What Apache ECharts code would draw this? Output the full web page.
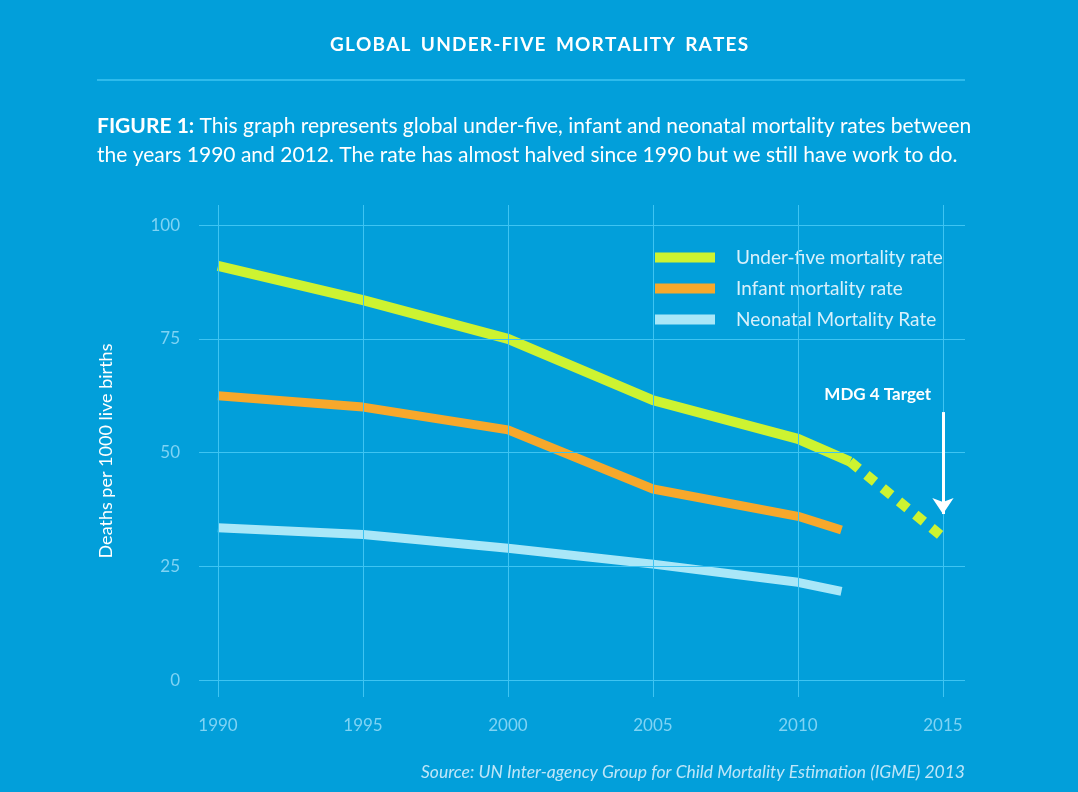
<!DOCTYPE html>
<html>
<head>
<meta charset="utf-8">
<script src="https://cdn.jsdelivr.net/npm/echarts@6/dist/echarts.min.js"></script>
<style>html,body{margin:0;padding:0;background:#029fda;}#main{width:1078px;height:792px;}</style>
</head>
<body>
<div id="main"></div>
<script>
var years = [1990, 1995, 2000, 2005, 2010, 2011.5];
var yearsU5 = [1990, 1995, 2000, 2005, 2010, 2011.8];
var underFive = [91, 83.5, 75, 61.5, 53, 48];
var infant = [62.5, 60, 55, 42, 36, 33];
var neonatal = [33.5, 32, 29, 25.5, 21.5, 19.5];
var targetYears = [2011.8, 2015];
var targetValues = [48, 31.4];
var xTicks = [1990, 1995, 2000, 2005, 2010, 2015];
var yTicks = [0, 25, 50, 75, 100];

function pairs(xs, ys) { return xs.map(function (x, i) { return [x, ys[i]]; }); }

var myChart = echarts.init(document.getElementById('main'));
var gridColor = '#3ec4f2';
var xMin = 1989.345, xMax = 2015.76, yMin = -3.7, yMax = 104.4;

// 网格线用 markLine 画，使其超出数据范围
var gridLines = [];
yTicks.forEach(function (v) { gridLines.push([{ coord: [xMin, v] }, { coord: [xMax, v] }]); });
xTicks.forEach(function (v) { gridLines.push([{ coord: [v, yMin] }, { coord: [v, yMax] }]); });

var option = {
  backgroundColor: '#029fda',
  textStyle: { fontFamily: 'Lato' },
  graphic: [
    { type: 'text', left: 'center', top: 35, style: { text: 'G L O B A L   U N D E R - F I V E   M O R T A L I T Y   R A T E S'.replace(/ (?! )/g, '\u200A'), fill: '#fff', font: 'bold 19px Lato' } },
    { type: 'line', shape: { x1: 97, y1: 80, x2: 965, y2: 80 }, style: { stroke: gridColor, lineWidth: 1.5 } },
    { type: 'text', left: 97, top: 112, style: {
        text: '{b|FIGURE 1:} This graph represents global under-five, infant and neonatal mortality rates between\nthe years 1990 and 2012. The rate has almost halved since 1990 but we still have work to do.',
        fill: '#fff', font: '21px Lato', lineHeight: 29,
        rich: { b: { fontWeight: 'bold', fontSize: 21, fill: '#fff', fontFamily: 'Lato' } } } },
    { type: 'text', right: 113, top: 763, style: { text: 'Source: UN Inter-agency Group for Child Mortality Estimation (IGME) 2013', fill: '#bfe6f8', font: 'italic 17.5px Lato' } }
  ],
  legend: {
    orient: 'vertical', left: 650, top: 243, itemWidth: 60, itemHeight: 10, itemGap: 12,
    icon: 'rect',
    data: ['Under-five mortality rate', 'Infant mortality rate', 'Neonatal Mortality Rate'],
    textStyle: { color: '#d8f0fb', fontSize: 19, fontFamily: 'Lato', padding: [0, 0, 0, 16] }
  },
  grid: { left: 199, right: 113, top: 205, bottom: 95 },
  xAxis: {
    type: 'value', min: xMin, max: xMax,
    axisLine: { show: false }, axisTick: { show: false }, splitLine: { show: false },
    axisLabel: { customValues: xTicks, formatter: function (v) { return String(v); }, color: '#7fd3f4', fontSize: 17, margin: 20 }
  },
  yAxis: {
    type: 'value', min: yMin, max: yMax,
    name: 'Deaths per 1000 live births', nameLocation: 'middle', nameGap: 84, nameRotate: 90,
    nameTextStyle: { color: '#fff', fontSize: 18 },
    axisLine: { show: false }, axisTick: { show: false }, splitLine: { show: false },
    axisLabel: { customValues: yTicks, color: '#7fd3f4', fontSize: 17, margin: 19 }
  },
  series: [
    { name: 'grid', type: 'line', data: [], silent: true,
      markLine: { silent: true, symbol: 'none', label: { show: false },
        lineStyle: { color: gridColor, width: 1, type: 'solid' }, data: gridLines } },
    { name: 'Neonatal Mortality Rate', type: 'line', data: pairs(years, neonatal), showSymbol: false,
      lineStyle: { color: '#a9e7f8', width: 9 }, itemStyle: { color: '#a9e7f8' } },
    { name: 'Infant mortality rate', type: 'line', data: pairs(years, infant), showSymbol: false,
      lineStyle: { color: '#f7a82b', width: 9 }, itemStyle: { color: '#f7a82b' } },
    { name: 'target', type: 'line', data: pairs(targetYears, targetValues), showSymbol: false,
      lineStyle: { color: '#cdf331', width: 10, type: [11, 10] },
      markLine: { silent: true, symbol: ['none', 'arrow'], symbolSize: [16, 16],
        lineStyle: { color: '#fff', width: 3, type: 'solid' },
        label: { show: false },
        data: [[{ coord: [2015, 58.9] }, { coord: [2015, 36.5] }]] },
      markPoint: { symbol: 'rect', symbolSize: 1, itemStyle: { color: 'transparent' },
        label: { show: true, formatter: 'MDG 4 Target', color: '#fff', fontWeight: 'bold', fontSize: 17, fontFamily: 'Lato' },
        data: [{ coord: [2012.75, 62.8] }] } },
    { name: 'Under-five mortality rate', type: 'line', data: pairs(yearsU5, underFive), showSymbol: false,
      lineStyle: { color: '#cdf331', width: 10 }, itemStyle: { color: '#cdf331' } }
  ]
};

myChart.setOption(option);
</script>
</body>
</html>
